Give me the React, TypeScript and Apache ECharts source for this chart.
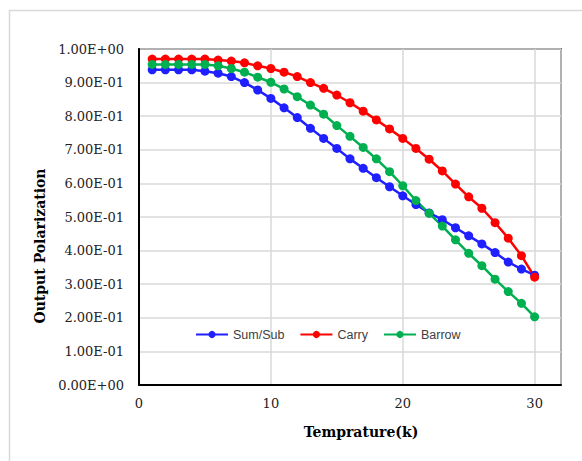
import React, { useEffect, useRef } from "react";
import * as echarts from "echarts";

const temps = [1, 2, 3, 4, 5, 6, 7, 8, 9, 10, 11, 12, 13, 14, 15, 16, 17, 18, 19, 20, 21, 22, 23, 24, 25, 26, 27, 28, 29, 30];
const sumSub = [0.938, 0.938, 0.938, 0.938, 0.934, 0.928, 0.918, 0.9, 0.878, 0.853, 0.825, 0.796, 0.764, 0.734, 0.704, 0.673, 0.645, 0.617, 0.59, 0.563, 0.537, 0.512, 0.492, 0.468, 0.444, 0.42, 0.394, 0.366, 0.345, 0.327];
const carry = [0.97, 0.97, 0.97, 0.97, 0.97, 0.967, 0.964, 0.959, 0.95, 0.942, 0.931, 0.918, 0.9, 0.883, 0.863, 0.84, 0.815, 0.789, 0.762, 0.734, 0.704, 0.672, 0.637, 0.598, 0.56, 0.526, 0.483, 0.437, 0.385, 0.321];
const barrow = [0.954, 0.954, 0.954, 0.954, 0.954, 0.95, 0.942, 0.931, 0.916, 0.901, 0.881, 0.858, 0.833, 0.806, 0.772, 0.74, 0.707, 0.673, 0.635, 0.593, 0.549, 0.511, 0.473, 0.432, 0.392, 0.355, 0.315, 0.278, 0.243, 0.203];
const seriesNames = ["Sum/Sub", "Carry", "Barrow"];
const seriesColors = ["#1f1fff", "#ff0000", "#00b050"];
const xTitle = "Temprature(k)";
const yTitle = "Output Polarization";

export default function App() {
  const ref = useRef<HTMLDivElement>(null);
  useEffect(() => {
    if (!ref.current) return;
    const chart = echarts.init(ref.current, null, { renderer: "svg" });
    const data = [sumSub, carry, barrow];
    chart.setOption({
      animation: false,
      backgroundColor: "#ffffff",
      grid: { left: 139, top: 49, right: 21, bottom: 76, show: true, borderColor: "#000", borderWidth: 1.5 },
      legend: {
        left: 195,
        top: 328,
        itemWidth: 32,
        itemHeight: 9,
        itemGap: 15,
        padding: 0,
        data: seriesNames,
        textStyle: { fontFamily: "Liberation Sans", fontSize: 12.5, color: "#404040" },
      },
      xAxis: {
        type: "value",
        min: 0,
        max: 32,
        interval: 10,
        axisLine: { show: true, lineStyle: { color: "#000", width: 2 } },
        axisTick: { show: false },
        splitLine: { show: true, lineStyle: { color: "#d9d9d9", width: 1.5 } },
        axisLabel: {
          margin: 12,
          fontFamily: "DejaVu Serif",
          fontSize: 13,
          color: "#222",
          showMaxLabel: false,
        },
      },
      yAxis: {
        type: "value",
        min: 0,
        max: 1,
        interval: 0.1,
        axisLine: { show: true, lineStyle: { color: "#000", width: 2 } },
        axisTick: { show: false },
        splitLine: { show: true, lineStyle: { color: "#d9d9d9", width: 1.5 } },
        axisLabel: {
          margin: 15,
          fontFamily: "DejaVu Serif",
          fontSize: 13,
          color: "#222",
          formatter: (v: number) => {
            const s = v.toExponential(2).toUpperCase();
            const m = s.match(/^(-?[\d.]+)E([+-])(\d+)$/);
            if (!m) return s;
            return m[1] + "E" + m[2] + m[3].padStart(2, "0");
          },
        },
      },
      series: data.map((d, i) => ({
        name: seriesNames[i],
        type: "line",
        data: temps.map((t, j) => [t, d[j]]),
        symbol: "circle",
        symbolSize: 9,
        color: seriesColors[i],
        lineStyle: { width: 2.5, color: seriesColors[i] },
        itemStyle: { color: seriesColors[i] },
      })),
      graphic: [
        {
          type: "rect",
          shape: { x: 9.5, y: 10.5, width: 600, height: 500 },
          style: { fill: "none", stroke: "#d9d9d9", lineWidth: 1.5 },
          silent: true,
        },
        {
          type: "text",
          x: 361,
          y: 432,
          style: {
            text: xTitle,
            font: "bold 14px 'DejaVu Serif'",
            fill: "#000",
            align: "center",
            verticalAlign: "middle",
          },
        },
        {
          type: "text",
          x: 40,
          y: 246,
          rotation: Math.PI / 2,
          style: {
            text: yTitle,
            font: "bold 14px 'DejaVu Serif'",
            fill: "#000",
            align: "center",
            verticalAlign: "middle",
          },
        },
      ],
    });
    return () => chart.dispose();
  }, []);
  return <div ref={ref} style={{ position: "fixed", left: 0, top: 0, width: 582, height: 461 }} />;
}
